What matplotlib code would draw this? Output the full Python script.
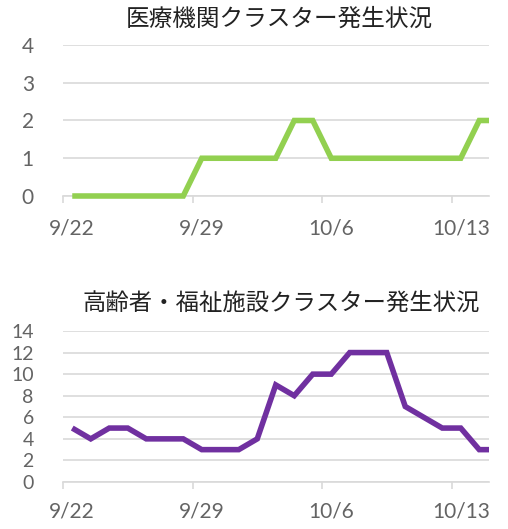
import numpy as np
import matplotlib
matplotlib.use("Agg")
import matplotlib.pyplot as plt

plt.rcParams['font.family'] = ['Lato', 'Noto Sans CJK JP', 'DejaVu Sans']

dates = ["9/22", "9/23", "9/24", "9/25", "9/26", "9/27", "9/28",
         "9/29", "9/30", "10/1", "10/2", "10/3", "10/4", "10/5",
         "10/6", "10/7", "10/8", "10/9", "10/10", "10/11", "10/12",
         "10/13", "10/14", "10/15"]
# last value (10/15) is only partly visible at the right edge
medical = [0, 0, 0, 0, 0, 0, 0, 1, 1, 1, 1, 1, 2, 2, 1, 1, 1, 1, 1, 1, 1, 1, 2, 2]
elderly = [5, 4, 5, 5, 4, 4, 4, 3, 3, 3, 4, 9, 8, 10, 10, 12, 12, 12, 7, 6, 5, 5, 3, 3]
n_shown = 23

titles = ["医療機関クラスター発生状況", "高齢者・福祉施設クラスター発生状況"]
colors = ["#92d050", "#7030a0"]

W, H = 508, 529
fig = plt.figure(figsize=(W / 100, H / 100), dpi=100)

def make_axes(top_px, bot_px):
    left = 63 / W
    width = (488.5 - 63) / W
    return fig.add_axes([left, 1 - bot_px / H, width, (bot_px - top_px) / H])

def style(ax, values, color, ymax, ystep, ylabsize, xpad):
    x = np.arange(len(values))
    ln, = ax.plot(x, values, color=color, linewidth=4, solid_joinstyle='miter',
                  solid_capstyle='butt', zorder=3)
    ax.set_xlim(-0.5, n_shown - 0.5)
    ax.set_ylim(0, ymax)
    # let the line run a little past the top/bottom edges, but not sideways
    clip = matplotlib.transforms.Bbox.from_extents(-0.5, -1, n_shown - 0.45, ymax + 1)
    ln.set_clip_box(matplotlib.transforms.TransformedBbox(clip, ax.transData))
    yt = np.arange(0, ymax + 1, ystep)
    ax.set_yticks(yt)
    ax.set_yticklabels([str(v) for v in yt], fontsize=ylabsize, color="#646464")
    ax.yaxis.grid(True, color="#d9d9d9", linewidth=1.2)
    ax.set_axisbelow(True)
    ax.tick_params(axis='y', length=0, pad=21)
    lab_idx = list(range(0, n_shown, 7))
    ax.set_xticks(lab_idx)
    ax.set_xticklabels([dates[i] for i in lab_idx], fontsize=15, color="#646464")
    ax.set_xticks(np.arange(-0.5, n_shown, 7), minor=True)
    ax.tick_params(axis='x', which='major', length=0, pad=xpad)
    ax.tick_params(axis='x', which='minor', length=5, color="#d9d9d9", width=1.2)
    for s in ["top", "right", "left"]:
        ax.spines[s].set_visible(False)
    ax.spines["bottom"].set_color("#d9d9d9")
    ax.spines["bottom"].set_linewidth(1.2)

ax1 = make_axes(45, 196)
style(ax1, medical, colors[0], 4, 1, 15, 16)
ax2 = make_axes(331, 482)
style(ax2, elderly, colors[1], 14, 2, 14, 14)

fig.text(279 / W, 1 - 19 / H, titles[0], ha='center', va='center', fontsize=17,
         family=['Noto Sans CJK JP'], color="#222222")
fig.text(281 / W, 1 - 304 / H, titles[1], ha='center', va='center', fontsize=16.8,
         family=['Noto Sans CJK JP'], color="#222222")

fig.savefig("out.png", dpi=100)
